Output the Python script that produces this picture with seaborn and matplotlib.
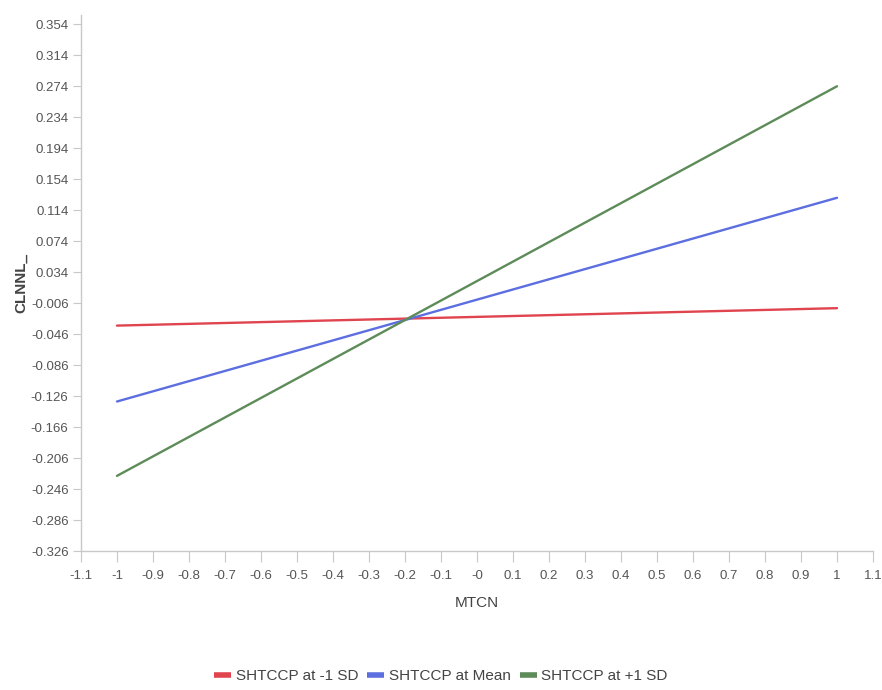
import matplotlib
matplotlib.use("Agg")
import matplotlib.pyplot as plt
import seaborn as sns
import pandas as pd
import numpy as np
from matplotlib.lines import Line2D

sns.set_style("white")
plt.rcParams['font.family'] = ['Liberation Sans Narrow', 'Liberation Sans', 'DejaVu Sans']

# Data
series_names = ["SHTCCP at -1 SD", "SHTCCP at Mean", "SHTCCP at +1 SD"]
x_vals = [-1, 1]
low_sd = [-0.035, -0.0125]
mean_vals = [-0.133, 0.130]
high_sd = [-0.229, 0.274]
colors = ["#E0444E", "#5C6EE0", "#5D8C59"]

y_ticks = [0.354, 0.314, 0.274, 0.234, 0.194, 0.154, 0.114, 0.074, 0.034,
           -0.006, -0.046, -0.086, -0.126, -0.166, -0.206, -0.246, -0.286, -0.326]
y_tick_labels = ["0.354", "0.314", "0.274", "0.234", "0.194", "0.154", "0.114", "0.074", "0.034",
                 "-0.006", "-0.046", "-0.086", "-0.126", "-0.166", "-0.206", "-0.246", "-0.286", "-0.326"]
x_ticks = [-1.1, -1.0, -0.9, -0.8, -0.7, -0.6, -0.5, -0.4, -0.3, -0.2, -0.1, 0.0,
           0.1, 0.2, 0.3, 0.4, 0.5, 0.6, 0.7, 0.8, 0.9, 1.0, 1.1]
x_tick_labels = ["-1.1", "-1", "-0.9", "-0.8", "-0.7", "-0.6", "-0.5", "-0.4", "-0.3", "-0.2", "-0.1", "-0",
                 "0.1", "0.2", "0.3", "0.4", "0.5", "0.6", "0.7", "0.8", "0.9", "1", "1.1"]

rows = []
for name, vals in zip(series_names, [low_sd, mean_vals, high_sd]):
    for x, y in zip(x_vals, vals):
        rows.append({"MTCN": x, "CLNNL_": y, "series": name})
df = pd.DataFrame(rows)

fig = plt.figure(figsize=(8.82, 6.9), dpi=100)
ax = fig.add_axes([81/882, 1 - 551/690, (873-81)/882, (551-15)/690])

sns.lineplot(data=df, x="MTCN", y="CLNNL_", hue="series", palette=colors,
             hue_order=series_names, linewidth=1.7, ax=ax, legend=False)

ax.set_xlim(-1.1, 1.1)
ax.set_ylim(-0.326, 0.366)
ax.set_xticks(x_ticks)
ax.set_xticklabels(x_tick_labels)
ax.set_yticks(y_ticks)
ax.set_yticklabels(y_tick_labels)
ax.yaxis.set_minor_locator(matplotlib.ticker.FixedLocator(
    [t + 0.02 for t in y_ticks]))

for s in ["top", "right"]:
    ax.spines[s].set_visible(False)
for s in ["left", "bottom"]:
    ax.spines[s].set_color("#C8C8C8")
    ax.spines[s].set_linewidth(1.0)

ax.tick_params(axis="both", which="major", length=6, width=0.8, color="#C8C8C8",
               labelsize=9.5, labelcolor="#555555", direction="out", pad=3)
ax.tick_params(axis="x", which="major", length=8, pad=6)
ax.tick_params(axis="y", which="minor", length=6, width=0.8, color="#C8C8C8")
ax.tick_params(left=True, bottom=True)

ax.set_xlabel("MTCN", fontsize=11, color="#444444", labelpad=10)
ax.set_ylabel("CLNNL_", fontsize=11, color="#444444", labelpad=2, fontweight="bold")

handles = [Line2D([0], [0], color=c, lw=4, solid_capstyle="butt") for c in colors]
fig.legend(handles, series_names, loc="center", bbox_to_anchor=(0.5, 1 - 676/690),
           ncol=3, frameon=False, fontsize=11, handlelength=1.1, handletextpad=0.3,
           columnspacing=0.6, labelcolor="#444444")

fig.savefig("out.png", dpi=100)
